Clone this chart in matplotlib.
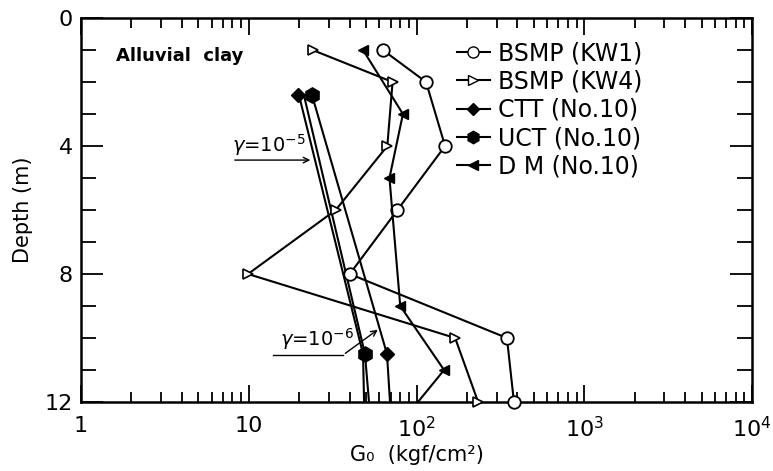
import matplotlib
matplotlib.use("Agg")
import matplotlib.pyplot as plt
from matplotlib.lines import Line2D
from matplotlib.legend_handler import HandlerLine2D
from matplotlib.ticker import FixedLocator, FuncFormatter, LogLocator, MultipleLocator, NullFormatter

# BSMP, borehole KW1
kw1_depth = [1, 2, 4, 6, 8, 10, 12]
kw1_g = [63, 114, 148, 77, 40, 346, 381]

# BSMP, borehole KW4
kw4_depth = [1, 2, 4, 6, 8, 10, 12]
kw4_g = [24, 72, 67, 33, 9.9, 170, 233]

# downhole measurement No.10 (last point sits on the axis, no marker)
dm_depth = [1, 3, 5, 9, 11, 12]
dm_g = [48, 83, 69, 80, 146, 102]

# lab test lines (gamma = 1e-5 ... 1e-6)
lab_depth = [2.4, 10.5, 12.0]
lab_g5 = [19.9, 48.0, 48.7]
lab_g_mid = [21.3, 49.3, 52.1]
lab_g6 = [23.8, 66.7, 69.5]

ctt_depth = [2.4, 10.5]
ctt_g = [19.7, 66.7]
uct_depth = [2.4, 10.5]
uct_g = [23.8, 49.3]

xtick_vals = [1, 10, 100, 1000, 10000]
xtick_text = ["1", "10", "$10^2$", "$10^3$", "$10^4$"]
ytick_vals = [0, 4, 8, 12]


class EndMarker(HandlerLine2D):
    # marker at the right end of the legend line, like the original
    def get_xdata(self, legend, xdescent, ydescent, width, height, fontsize):
        return [-xdescent, -xdescent + width], [-xdescent + width]


plt.rcParams["font.family"] = "DejaVu Sans"

fig = plt.figure(figsize=(7.73, 4.71), dpi=100)
ax = fig.add_axes([81 / 773, 1 - 402 / 471, 671 / 773, 384 / 471])

lw = 1.5
ax.plot(kw1_g, kw1_depth, color="k", lw=lw, marker="o", ms=9, mfc="white", mec="k", mew=1.3, clip_on=False, zorder=4)
ax.plot(kw4_g, kw4_depth, color="k", lw=lw, marker=">", ms=7, mfc="white", mec="k", mew=1.2, clip_on=False, zorder=4)
ax.plot(dm_g, dm_depth, color="k", lw=lw, marker="<", ms=7, mfc="k", mec="k",
        markevery=list(range(len(dm_g) - 1)), clip_on=False, zorder=4)

for g in (lab_g5, lab_g_mid, lab_g6):
    ax.plot(g, lab_depth, color="k", lw=lw, zorder=3)
ax.plot(ctt_g, ctt_depth, ls="none", marker="D", ms=7, color="k", zorder=5)
ax.plot(uct_g, uct_depth, ls="none", marker="h", ms=11, color="k", zorder=5)

# strain annotations
ax.annotate("", xy=(24.2, 4.44), xytext=(7.95, 4.44),
            arrowprops=dict(arrowstyle="->", color="k", lw=1.0))
ax.text(8.0, 4.36, r"$\gamma$=10$^{-5}$", fontsize=14, ha="left", va="bottom")
ax.plot([13.95, 36.5], [10.53, 10.53], color="k", lw=1.0)
ax.annotate("", xy=(60.6, 9.69), xytext=(36.5, 10.53),
            arrowprops=dict(arrowstyle="->", color="k", lw=1.0))
ax.text(15.4, 10.45, r"$\gamma$=10$^{-6}$", fontsize=14, ha="left", va="bottom")

ax.text(1.62, 1.2, "Alluvial  clay", fontsize=13, fontweight="bold", ha="left", va="center")

ax.set_xscale("log")
ax.set_xlim(1, 10000)
ax.set_ylim(12, 0)
ax.xaxis.set_major_locator(FixedLocator(xtick_vals))
ax.xaxis.set_major_formatter(FuncFormatter(lambda v, p: xtick_text[xtick_vals.index(round(v))] if round(v) in xtick_vals else ""))
ax.xaxis.set_minor_locator(LogLocator(base=10, subs=range(2, 10)))
ax.xaxis.set_minor_formatter(NullFormatter())
ax.yaxis.set_major_locator(FixedLocator(ytick_vals))
ax.yaxis.set_minor_locator(MultipleLocator(1))

ax.tick_params(which="both", direction="in", top=True, right=True, width=1.3)
ax.tick_params(axis="x", which="major", length=12, pad=10, labelsize=16)
ax.tick_params(axis="x", which="minor", length=7)
ax.tick_params(axis="y", which="major", length=16, pad=6, labelsize=16)
ax.tick_params(axis="y", which="minor", length=11)
for s in ax.spines.values():
    s.set_linewidth(1.8)

ax.set_xlabel("G\u2080  (kgf/cm\u00b2)", fontsize=15, labelpad=3)
ax.set_ylabel("Depth (m)", fontsize=15, labelpad=8)

handles = [
    Line2D([], [], color="k", lw=lw, marker="o", ms=8, mfc="white", label="BSMP (KW1)"),
    Line2D([], [], color="k", lw=lw, marker=">", ms=7, mfc="white", label="BSMP (KW4)"),
    Line2D([], [], color="k", lw=lw, marker="D", ms=6, label="CTT (No.10)"),
    Line2D([], [], color="k", lw=lw, marker="h", ms=9, label="UCT (No.10)"),
    Line2D([], [], color="k", lw=lw, marker="<", ms=7, label="D M (No.10)"),
]
ax.legend(handles=handles, handler_map={Line2D: EndMarker()}, loc="upper left",
          bbox_to_anchor=(0.56, 0.939), frameon=False, fontsize=17, borderpad=0,
          handlelength=1.4, handletextpad=0.35, labelspacing=0.18, borderaxespad=0)

fig.savefig("out.png", dpi=100)
